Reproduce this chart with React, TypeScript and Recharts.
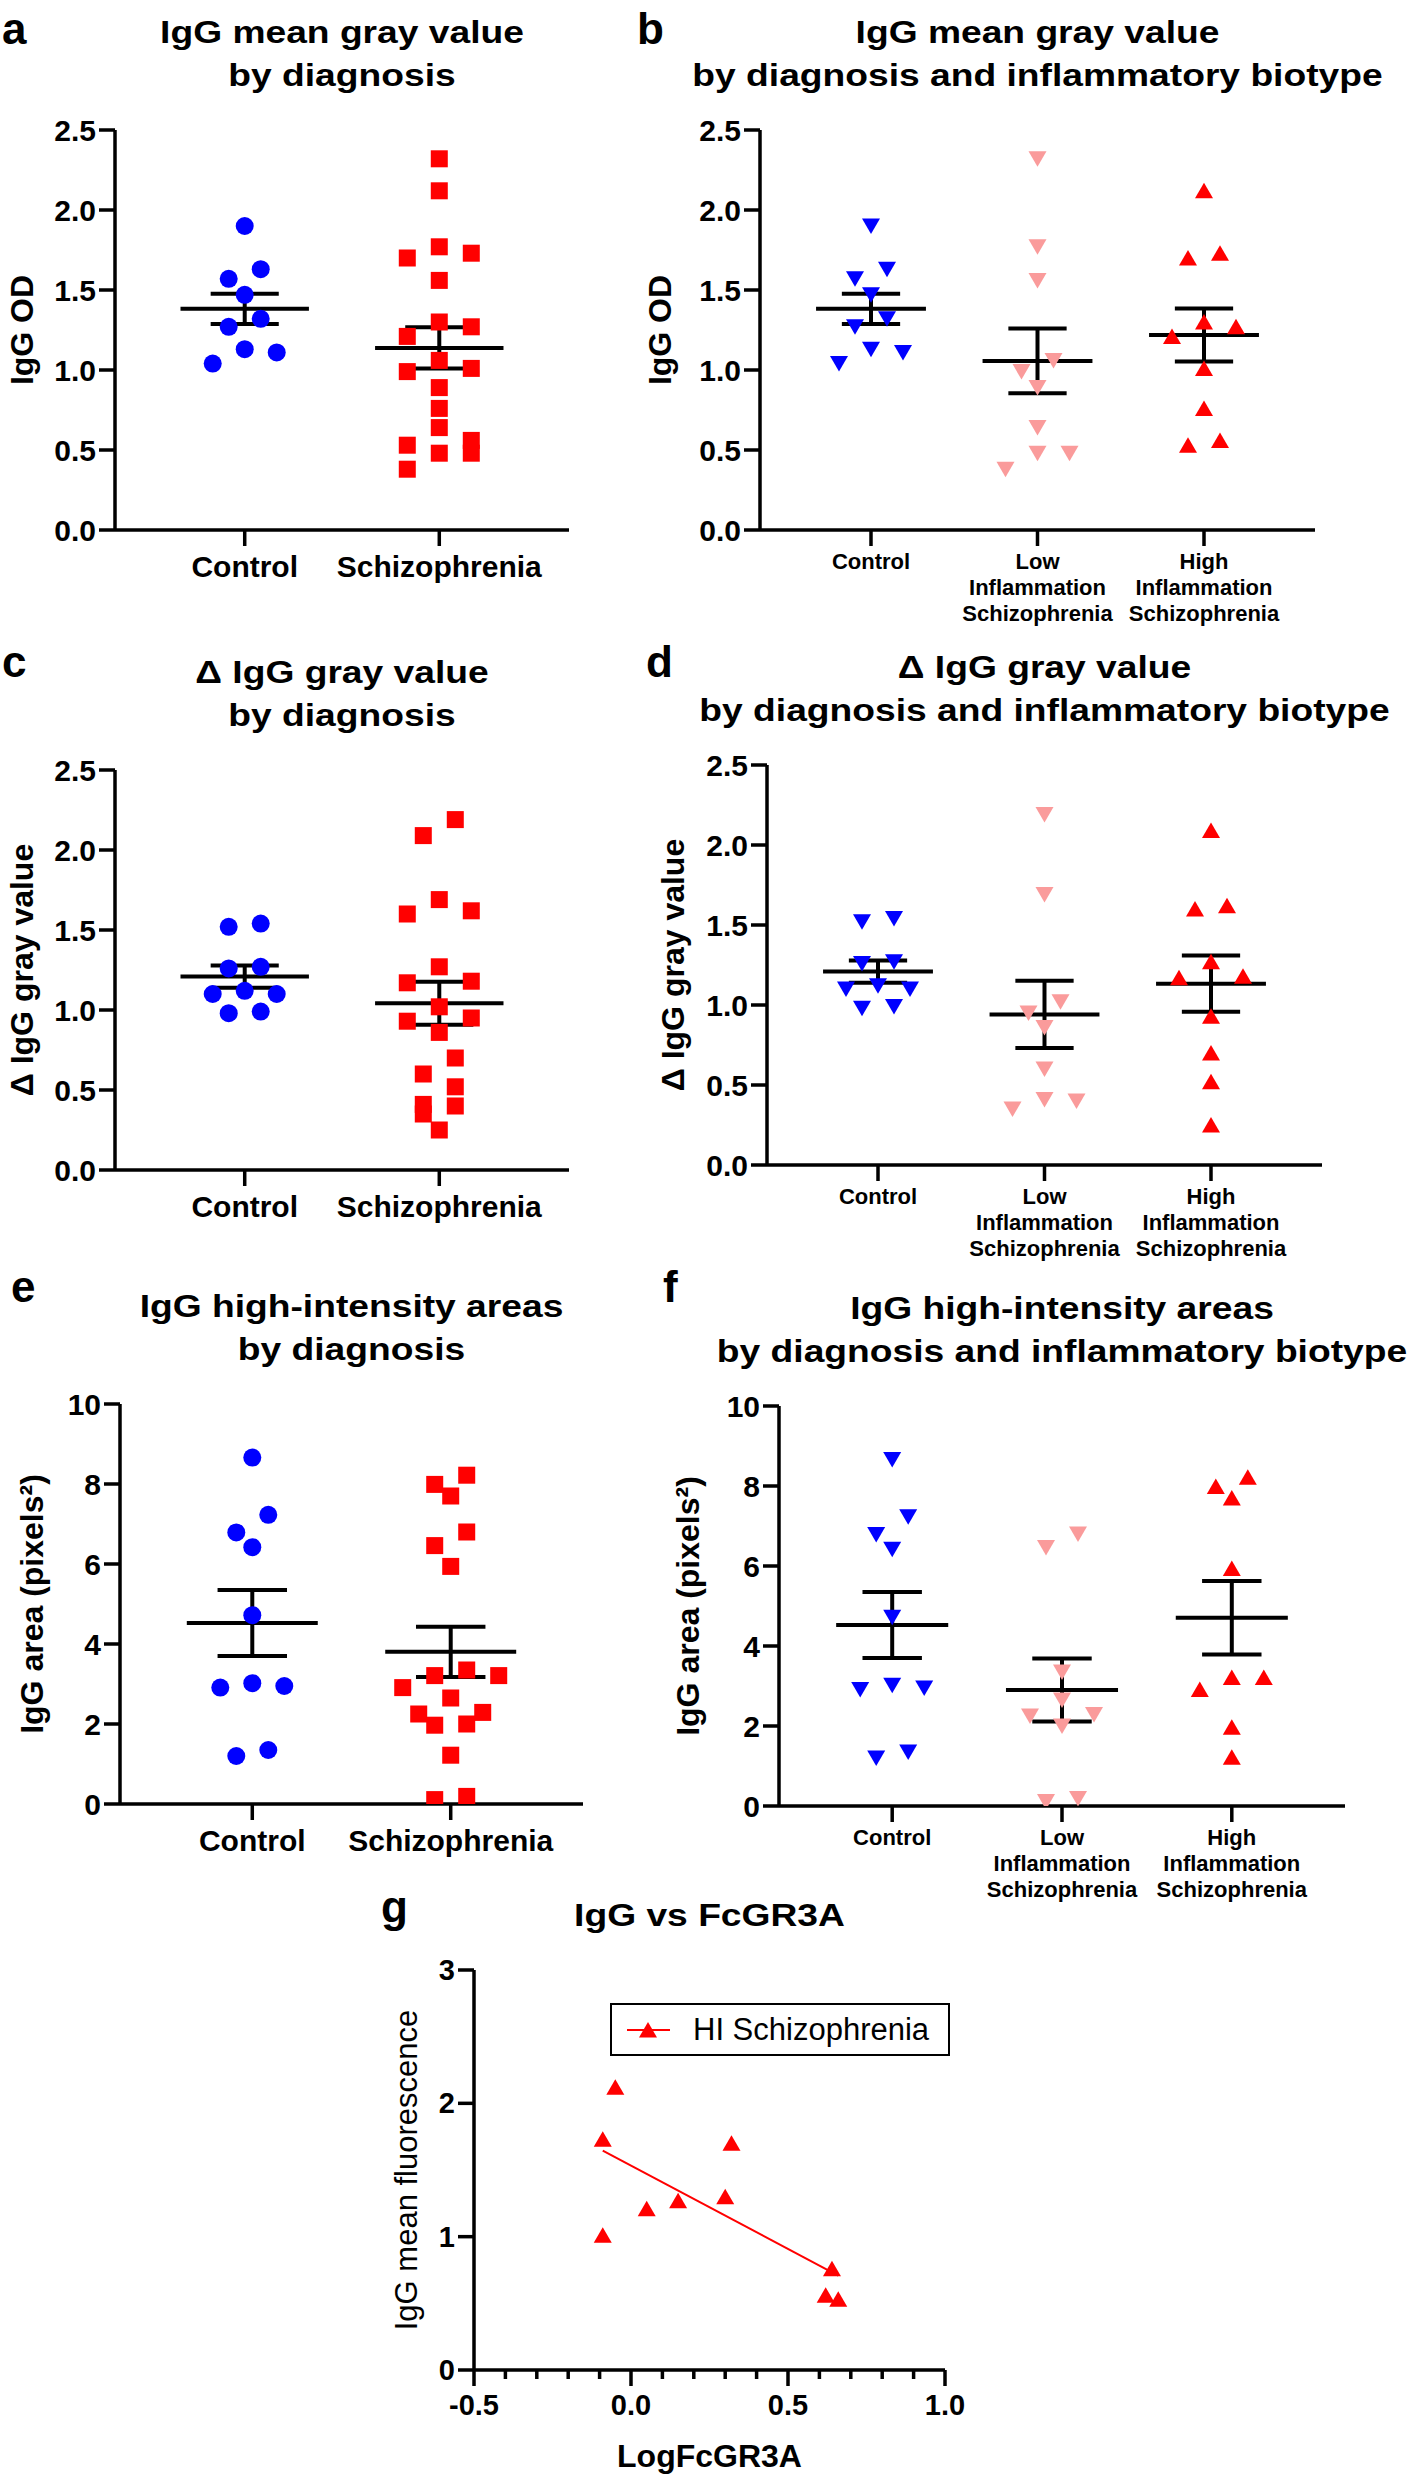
import React from 'react';
import { ScatterChart, Scatter, XAxis, YAxis, ReferenceLine, Legend } from 'recharts';

const FONT = '"Liberation Sans", Arial, Helvetica, sans-serif';
const BLUE = '#0000FF';
const RED = '#FF0000';
const PINK = '#FA9B9B';

// ---------------- data ----------------
const diagnosisCategories = ['Control', 'Schizophrenia'];
const biotypeCategories = ['Control', 'Low\nInflammation\nSchizophrenia', 'High\nInflammation\nSchizophrenia'];

// IgG mean gray value (OD)
const controlGray = [1.9, 1.63, 1.57, 1.47, 1.32, 1.27, 1.13, 1.11, 1.04];
const lowGray = [2.32, 1.77, 1.56, 1.06, 0.99, 0.89, 0.64, 0.48, 0.48, 0.38];
const highGray = [2.12, 1.73, 1.7, 1.3, 1.27, 1.21, 1.01, 0.76, 0.56, 0.53];

// Delta IgG gray value
const controlDelta = [1.54, 1.52, 1.27, 1.26, 1.12, 1.1, 1.1, 0.99, 0.98];
const lowDelta = [2.19, 1.69, 1.02, 0.95, 0.86, 0.6, 0.41, 0.4, 0.35];
const highDelta = [2.09, 1.62, 1.6, 1.27, 1.18, 1.17, 0.93, 0.7, 0.52, 0.25];

// IgG high-intensity area (pixels^2)
const controlArea = [8.66, 7.23, 6.79, 6.42, 4.72, 3.02, 2.95, 2.91, 1.35, 1.2];
const lowArea = [6.8, 6.46, 3.35, 2.65, 2.29, 2.25, 2.0, 0.19, 0.11];
const highArea = [8.22, 7.99, 7.7, 5.94, 3.21, 3.21, 2.91, 1.97, 1.22];

// LogFcGR3A paired with highGray (HI schizophrenia)
const highLogFcGR3A = [-0.05, -0.09, 0.32, 0.3, 0.15, 0.05, -0.09, 0.64, 0.62, 0.66];

const grayTicks = [0, 0.5, 1, 1.5, 2, 2.5];
const areaTicks = [0, 2, 4, 6, 8, 10];
const fluorTicks = [0, 1, 2, 3];
const logMajorTicks = [-0.5, 0, 0.5, 1];
const logMinorTicks = [-0.4, -0.3, -0.2, -0.1, 0.1, 0.2, 0.3, 0.4, 0.6, 0.7, 0.8, 0.9];
const legendLabel = 'HI Schizophrenia';

// ---------------- helpers ----------------
const mean = (a: number[]) => a.reduce((s, v) => s + v, 0) / a.length;
const sem = (a: number[]) => {
  const m = mean(a);
  const v = a.reduce((s, x) => s + (x - m) * (x - m), 0) / (a.length - 1);
  return Math.sqrt(v / a.length);
};

// GraphPad-like column scatter: group close values into rows and spread symmetrically
function swarmOffsetsPx(values: number[], pxPerUnit: number, step = 32, minGap = 18) {
  const order = values.map((_, i) => i).sort((a, b) => values[b] - values[a]);
  const out = new Array(values.length).fill(0);
  let row: number[] = [];
  let start = 0;
  const flush = () => {
    const n = row.length;
    row.forEach((idx, k) => {
      let slot: number;
      if (n % 2 === 1) slot = k === 0 ? 0 : k % 2 === 1 ? (k + 1) / 2 : -k / 2;
      else slot = (k % 2 === 0 ? 1 : -1) * (Math.floor(k / 2) + 0.5);
      out[idx] = slot * step;
    });
    row = [];
  };
  order.forEach((idx) => {
    const v = values[idx];
    if (row.length && (start - v) * pxPerUnit >= minGap) flush();
    if (!row.length) start = v;
    row.push(idx);
  });
  flush();
  return out;
}

type Kind = 'circle' | 'square' | 'down' | 'up';
const Marker = ({ cx, cy, color, kind }: any) => {
  if (cx == null || cy == null) return null;
  if (kind === 'circle') return <circle cx={cx} cy={cy} r={9} fill={color} />;
  if (kind === 'square') return <rect x={cx - 8.5} y={cy - 8.5} width={17} height={17} fill={color} />;
  if (kind === 'down')
    return <polygon points={`${cx - 9},${cy - 7.5} ${cx + 9},${cy - 7.5} ${cx},${cy + 8}`} fill={color} />;
  return <polygon points={`${cx - 9},${cy + 7.5} ${cx + 9},${cy + 7.5} ${cx},${cy - 8}`} fill={color} />;
};

const CatTick = ({ x, y, payload, cats, fontSize }: any) => {
  const lines: string[] = (cats[Math.round(payload.value)] || '').split('\n');
  const lh = fontSize * 1.18;
  return (
    <text x={x} y={y} textAnchor="middle" fontFamily={FONT} fontWeight={700} fontSize={fontSize} fill="#000">
      {lines.map((l, i) => (
        <tspan key={i} x={x} dy={i === 0 ? fontSize * 0.76 : lh}>
          {l}
        </tspan>
      ))}
    </text>
  );
};

const YTick = ({ x, y, payload, fmt, size = 30 }: any) => (
  <text x={x} y={y} dy={size * 0.35} textAnchor="end" fontFamily={FONT} fontWeight={700} fontSize={size} fill="#000">
    {fmt(payload.value)}
  </text>
);

const AXIS = { stroke: '#000', strokeWidth: 3.5 };

type Box = { x: number; y: number; w: number; h: number };
type Group = { name: string; values: number[]; color: string; kind: Kind };

const ML = 120;
const MR = 30;
const MT = 30;
const MB = 130;

function DotPanel({ box, cats, groups, yMax, yTicks, yFmt, catFont }: {
  box: Box; cats: string[]; groups: Group[]; yMax: number; yTicks: number[]; yFmt: (v: number) => string; catFont: number;
}) {
  const W = box.w + ML + MR;
  const H = box.h + MT + MB;
  const xMin = -2 / 3;
  const xMax = cats.length - 1 + 2 / 3;
  const xPx = box.w / (xMax - xMin);
  const yPx = box.h / yMax;
  const series = groups.map((g, gi) => {
    const off = swarmOffsetsPx(g.values, yPx);
    return g.values.map((v, i) => ({ x: gi + off[i] / xPx, y: v }));
  });
  const lines: any[] = [];
  groups.forEach((g, gi) => {
    const m = mean(g.values);
    const s = sem(g.values);
    const segs = [
      [{ x: gi - 0.33, y: m }, { x: gi + 0.33, y: m }],
      [{ x: gi, y: m - s }, { x: gi, y: m + s }],
      [{ x: gi - 0.175, y: m + s }, { x: gi + 0.175, y: m + s }],
      [{ x: gi - 0.175, y: m - s }, { x: gi + 0.175, y: m - s }],
    ];
    segs.forEach((seg, si) =>
      lines.push(
        <ReferenceLine key={`${gi}-${si}`} segment={seg as any} stroke="#000" strokeWidth={4} ifOverflow="visible" />
      )
    );
  });
  return (
    <div style={{ position: 'absolute', left: box.x - ML, top: box.y - MT, width: W, height: H }}>
      <ScatterChart width={W} height={H} margin={{ top: MT, right: MR, bottom: MB - 60, left: ML - 60 }}>
        <XAxis
          type="number"
          dataKey="x"
          domain={[xMin, xMax]}
          ticks={cats.map((_, i) => i)}
          interval={0}
          allowDataOverflow
          height={60}
          axisLine={AXIS}
          tickLine={AXIS}
          tickSize={16}
          tickMargin={catFont > 25 ? 8 : 6}
          tick={(p: any) => <CatTick {...p} cats={cats} fontSize={catFont} />}
        />
        <YAxis
          type="number"
          dataKey="y"
          domain={[0, yMax]}
          ticks={yTicks}
          interval={0}
          allowDataOverflow
          width={60}
          axisLine={AXIS}
          tickLine={AXIS}
          tickSize={16}
          tickMargin={3}
          tick={(p: any) => <YTick {...p} fmt={yFmt} />}
        />
        {groups.map((g, gi) => (
          <Scatter
            key={g.name}
            name={g.name}
            data={series[gi]}
            fill={g.color}
            isAnimationActive={false}
            shape={(p: any) => <Marker {...p} color={g.color} kind={g.kind} />}
          />
        ))}
        {lines}
      </ScatterChart>
    </div>
  );
}

function RegressionPanel({ box }: { box: Box }) {
  const W = box.w + ML + MR + 60;
  const H = box.h + MT + MB;
  const pts = highLogFcGR3A.map((x, i) => ({ x, y: highGray[i] }));
  const mx = mean(highLogFcGR3A);
  const my = mean(highGray);
  let sxy = 0;
  let sxx = 0;
  pts.forEach((p) => {
    sxy += (p.x - mx) * (p.y - my);
    sxx += (p.x - mx) * (p.x - mx);
  });
  const slope = sxy / sxx;
  const icpt = my - slope * mx;
  const x0 = Math.min(...highLogFcGR3A);
  const x1 = Math.max(...highLogFcGR3A);
  const fit = [
    { x: x0, y: icpt + slope * x0 },
    { x: x1, y: icpt + slope * x1 },
  ];
  const allTicks = [...logMajorTicks, ...logMinorTicks].sort((a, b) => a - b);
  const legendLeft = 610 - (box.x - ML);
  const legendTop = 2003 - (box.y - MT);
  return (
    <div style={{ position: 'absolute', left: box.x - ML, top: box.y - MT, width: W, height: H }}>
      <ScatterChart width={W} height={H} margin={{ top: MT, right: MR + 60, bottom: MB - 60, left: ML - 60 }}>
        <XAxis
          type="number"
          dataKey="x"
          domain={[-0.5, 1]}
          ticks={allTicks}
          interval={0}
          allowDataOverflow
          height={60}
          axisLine={AXIS}
          tickLine={false}
          tickSize={0}
          tickMargin={0}
          tick={(p: any) => {
            const v = p.payload.value;
            const major = logMajorTicks.some((t) => Math.abs(t - v) < 1e-6);
            return (
              <g>
                <line x1={p.x} x2={p.x} y1={p.y} y2={p.y + (major ? 16 : 9)} stroke="#000" strokeWidth={3.5} />
                {major && (
                  <text x={p.x} y={p.y + 45} textAnchor="middle" fontFamily={FONT} fontWeight={700} fontSize={29} fill="#000">
                    {v.toFixed(1)}
                  </text>
                )}
              </g>
            );
          }}
        />
        <YAxis
          type="number"
          dataKey="y"
          domain={[0, 3]}
          ticks={fluorTicks}
          interval={0}
          allowDataOverflow
          width={60}
          axisLine={AXIS}
          tickLine={AXIS}
          tickSize={16}
          tickMargin={3}
          tick={(p: any) => <YTick {...p} size={29} fmt={(v: number) => String(v)} />}
        />
        <Scatter
          name="fit"
          data={fit}
          line={{ stroke: RED, strokeWidth: 2 }}
          shape={() => <g />}
          legendType="none"
          isAnimationActive={false}
        />
        <Scatter
          name={legendLabel}
          data={pts}
          fill={RED}
          isAnimationActive={false}
          shape={(p: any) => <Marker {...p} color={RED} kind="up" />}
        />
        <Legend
          layout="vertical"
          align="center"
          verticalAlign="middle"
          wrapperStyle={{ left: legendLeft, top: legendTop, width: 340, height: 53 }}
          content={() => (
            <div
              style={{
                width: 340,
                height: 53,
                boxSizing: 'border-box',
                border: '2px solid #000',
                display: 'flex',
                alignItems: 'center',
                fontFamily: FONT,
                fontSize: 31,
                color: '#000',
                background: '#fff',
              }}
            >
              <svg width={81} height={40} style={{ flex: 'none' }}>
                <line x1={15} x2={58} y1={20} y2={20} stroke={RED} strokeWidth={2} />
                <polygon points="27,27.5 45,27.5 36,12" fill={RED} />
              </svg>
              <span>{legendLabel}</span>
            </div>
          )}
        />
      </ScatterChart>
    </div>
  );
}

// ---------------- layout ----------------
const boxA: Box = { x: 115, y: 130, w: 454, h: 400 };
const boxB: Box = { x: 760, y: 130, w: 555, h: 400 };
const boxC: Box = { x: 115, y: 770, w: 454, h: 400 };
const boxD: Box = { x: 767, y: 765, w: 555, h: 400 };
const boxE: Box = { x: 120, y: 1404, w: 463, h: 400 };
const boxF: Box = { x: 779, y: 1406, w: 566, h: 400 };
const boxG: Box = { x: 474, y: 1970, w: 471, h: 400 };

const fmt1 = (v: number) => v.toFixed(1);
const fmt0 = (v: number) => String(v);

const Title = ({ box, lines }: { box: Box; lines: string[] }) => {
  const cx = box.x + box.w / 2;
  return (
    <g>
      {lines.map((l, i) => {
        const base = box.y - 44 - (lines.length - 1 - i) * 43;
        return (
          <text
            key={i}
            transform={`translate(${cx},${base}) scale(1.2,1)`}
            textAnchor="middle"
            fontFamily={FONT}
            fontWeight={700}
            fontSize={31}
            fill="#000"
          >
            {l}
          </text>
        );
      })}
    </g>
  );
};

const YLabel = ({ x, box, text, bold = true, size = 32 }: any) => (
  <text
    transform={`translate(${x},${box.y + box.h / 2}) rotate(-90)`}
    textAnchor="middle"
    dominantBaseline="central"
    fontFamily={FONT}
    fontWeight={bold ? 700 : 400}
    fontSize={size}
    fill="#000"
  >
    {text}
  </text>
);

const Letter = ({ x, y, t }: any) => (
  <text x={x} y={y} fontFamily={FONT} fontWeight={700} fontSize={44} fill="#000">
    {t}
  </text>
);

export default function App() {
  return (
    <div style={{ position: 'absolute', left: 0, top: 0, width: 1420, height: 2479, background: '#fff', overflow: 'hidden' }}>
      <DotPanel
        box={boxA}
        cats={diagnosisCategories}
        groups={[
          { name: 'Control', values: controlGray, color: BLUE, kind: 'circle' },
          { name: 'Schizophrenia', values: [...lowGray, ...highGray], color: RED, kind: 'square' },
        ]}
        yMax={2.5}
        yTicks={grayTicks}
        yFmt={fmt1}
        catFont={30}
      />
      <DotPanel
        box={boxB}
        cats={biotypeCategories}
        groups={[
          { name: 'Control', values: controlGray, color: BLUE, kind: 'down' },
          { name: 'Low', values: lowGray, color: PINK, kind: 'down' },
          { name: 'High', values: highGray, color: RED, kind: 'up' },
        ]}
        yMax={2.5}
        yTicks={grayTicks}
        yFmt={fmt1}
        catFont={22}
      />
      <DotPanel
        box={boxC}
        cats={diagnosisCategories}
        groups={[
          { name: 'Control', values: controlDelta, color: BLUE, kind: 'circle' },
          { name: 'Schizophrenia', values: [...lowDelta, ...highDelta], color: RED, kind: 'square' },
        ]}
        yMax={2.5}
        yTicks={grayTicks}
        yFmt={fmt1}
        catFont={30}
      />
      <DotPanel
        box={boxD}
        cats={biotypeCategories}
        groups={[
          { name: 'Control', values: controlDelta, color: BLUE, kind: 'down' },
          { name: 'Low', values: lowDelta, color: PINK, kind: 'down' },
          { name: 'High', values: highDelta, color: RED, kind: 'up' },
        ]}
        yMax={2.5}
        yTicks={grayTicks}
        yFmt={fmt1}
        catFont={22}
      />
      <DotPanel
        box={boxE}
        cats={diagnosisCategories}
        groups={[
          { name: 'Control', values: controlArea, color: BLUE, kind: 'circle' },
          { name: 'Schizophrenia', values: [...lowArea, ...highArea], color: RED, kind: 'square' },
        ]}
        yMax={10}
        yTicks={areaTicks}
        yFmt={fmt0}
        catFont={30}
      />
      <DotPanel
        box={boxF}
        cats={biotypeCategories}
        groups={[
          { name: 'Control', values: controlArea, color: BLUE, kind: 'down' },
          { name: 'Low', values: lowArea, color: PINK, kind: 'down' },
          { name: 'High', values: highArea, color: RED, kind: 'up' },
        ]}
        yMax={10}
        yTicks={areaTicks}
        yFmt={fmt0}
        catFont={22}
      />
      <RegressionPanel box={boxG} />

      <svg width={1420} height={2479} style={{ position: 'absolute', left: 0, top: 0, pointerEvents: 'none' }}>
        <Letter x={2} y={44} t="a" />
        <Letter x={637} y={44} t="b" />
        <Letter x={2} y={677} t="c" />
        <Letter x={646} y={677} t="d" />
        <Letter x={11} y={1302} t="e" />
        <Letter x={663} y={1302} t="f" />
        <Letter x={381} y={1922} t="g" />

        <Title box={boxA} lines={['IgG mean gray value', 'by diagnosis']} />
        <Title box={boxB} lines={['IgG mean gray value', 'by diagnosis and inflammatory biotype']} />
        <Title box={boxC} lines={['\u0394 IgG gray value', 'by diagnosis']} />
        <Title box={boxD} lines={['\u0394 IgG gray value', 'by diagnosis and inflammatory biotype']} />
        <Title box={boxE} lines={['IgG high-intensity areas', 'by diagnosis']} />
        <Title box={boxF} lines={['IgG high-intensity areas', 'by diagnosis and inflammatory biotype']} />
        <Title box={boxG} lines={['IgG vs FcGR3A']} />

        <YLabel x={22} box={boxA} text="IgG OD" />
        <YLabel x={660} box={boxB} text="IgG OD" />
        <YLabel x={22} box={boxC} text={'\u0394 IgG gray value'} />
        <YLabel x={673} box={boxD} text={'\u0394 IgG gray value'} />
        <YLabel x={32} box={boxE} text={'IgG area (pixels\u00B2)'} />
        <YLabel x={688} box={boxF} text={'IgG area (pixels\u00B2)'} />
        <YLabel x={406} box={boxG} text="IgG mean fluorescence" bold={false} size={31} />

        <text x={boxG.x + boxG.w / 2} y={2467} textAnchor="middle" fontFamily={FONT} fontWeight={700} fontSize={32} fill="#000">
          LogFcGR3A
        </text>
      </svg>
    </div>
  );
}
